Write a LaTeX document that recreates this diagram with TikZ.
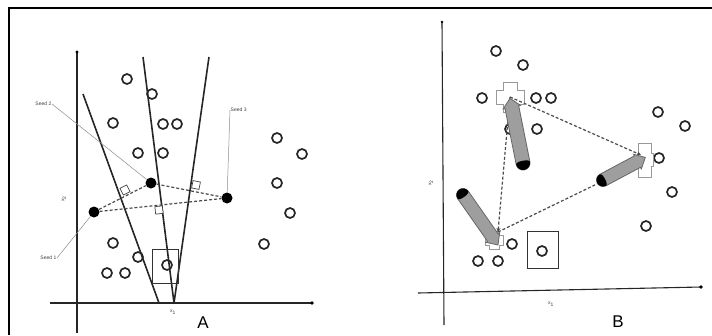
\documentclass[tikz,border=0pt]{standalone}
\usepackage{fontspec}
\setmainfont{Liberation Sans}
\usetikzlibrary{arrows.meta}
\tikzset{
  opc/.style={circle, draw=black!85, line width=1.7pt, minimum size=10pt, inner sep=0pt},
  seed/.style={circle, fill=black, minimum size=11pt, inner sep=0pt},
  axis/.style={draw=black!85, line width=1.1pt},
  bis/.style={draw=black!85, line width=1.6pt},
  dsh/.style={draw=black!70, line width=1.2pt, dash pattern=on 3pt off 2pt},
  lead/.style={draw=black!45, line width=0.5pt},
  rsq/.style={draw=black!75, line width=0.7pt, fill=white, minimum size=7.5pt, inner sep=0pt},
  tiny/.style={font=\fontsize{5}{6}\selectfont, text=black!75, inner sep=0.5pt},
  cross/.style={draw=black!40, line width=0.7pt, fill=white},
  farrow/.style={fill=black!38, draw=black!60, line width=0.8pt},
  panel/.style={font=\fontsize{17}{17}\selectfont, inner sep=0pt}
}
\newcommand{\fatarrowshape}[4]{%
  \begin{scope}[shift={#1}, rotate=#2]
    \filldraw[farrow] (0,#4) arc[start angle=90, end angle=270, radius=#4]
      -- (#3-9,-#4) -- (#3-9,-#4-1.8) -- (#3,0) -- (#3-9,#4+1.8) -- (#3-9,#4) -- cycle;
    \fill[black] (0,#4) arc[start angle=90, end angle=270, radius=#4]
      .. controls (3,-#4) and (3,#4) .. (0,#4) -- cycle;
  \end{scope}}
% plus shape: centre, arm half-width, horizontal half-length, vertical half-length
\newcommand{\plusshape}[4]{%
  \begin{scope}[shift={#1}]
    \filldraw[cross] (-#2,-#4) -- (#2,-#4) -- (#2,-#2) -- (#3,-#2) -- (#3,#2) -- (#2,#2)
      -- (#2,#4) -- (-#2,#4) -- (-#2,#2) -- (-#3,#2) -- (-#3,-#2) -- (-#2,-#2) -- cycle;
  \end{scope}}
\begin{document}
\begin{tikzpicture}[x=1pt, y=-1pt]
\useasboundingbox (0,0) rectangle (712,335);
\fill[white] (0,0) rectangle (712,335);
% frame
\draw[line width=1.8pt] (9,335) -- (9,8) -- (712,8);

% ================= Panel A =================
\coordinate (ay0) at (77,333); \coordinate (ay1) at (77,52);
\coordinate (ax0) at (50,303); \coordinate (ax1) at (312,303);
\draw[axis] (ay0) -- (ay1); \fill (ay1) circle (1.6);
\draw[axis] (ax0) -- (ax1); \fill (ax1) circle (1.8);
\node[tiny] (axl) at (173,312) {x\textsubscript{1}};
\node[tiny, rotate=90] (ayl) at (64,199) {x\textsubscript{2}};
\node[panel] (lA) at (203,323) {A};

% bisector lines
\coordinate (b1a) at (83,94);  \coordinate (b1b) at (159,303);
\coordinate (b2a) at (143,57); \coordinate (b2b) at (174,303);
\coordinate (b3a) at (209,57); \coordinate (b3b) at (174,303);
\draw[bis] (b1a) -- (b1b);
\draw[bis] (b2a) -- (b2b);
\draw[bis] (b3a) -- (b3b);

% box around point
\node[draw=black!80, line width=1pt, minimum width=26pt, minimum height=34pt, inner sep=0pt] (boxA) at (165,266) {};

% open circles A
\foreach \n/\x/\y in {a1/127/79, a2/152/94, a3/113/123, a4/163/124, a5/177/124,
  a6/138/153, a7/163/153, a8/277/138, a9/302/154, a10/277/183, a11/290/213,
  a12/264/244, a13/113/243, a14/138/257, a15/107/273, a16/125/273, a17/167/265}
  \node[opc] (\n) at (\x,\y) {};

% seeds
\node[seed] (s1) at (94,212) {};
\node[seed] (s2) at (151,183) {};
\node[seed] (s3) at (227,198) {};
\draw[dsh] (s1) -- (s2);
\draw[dsh] (s2) -- (s3);
\draw[dsh] (s1) -- (s3);

% right-angle markers
\node[rsq, rotate=27] (r12) at (125,190) {};
\node[rsq, rotate=-11] (r23) at (196,185) {};
\node[rsq, rotate=6] (r13) at (159,210) {};

% seed labels
\node[tiny, anchor=east] (l2) at (52,104) {Seed 2};
\node[tiny, anchor=west] (l3) at (230,110) {Seed 3};
\node[tiny, anchor=east] (l1) at (57,258) {Seed 1};
\draw[lead] (l2.east) -- (s2);
\draw[lead] (l3.west) -- (s3);
\draw[lead] (l1.east) -- (s1);

% ================= Panel B =================
\coordinate (by0) at (444,325); \coordinate (by1) at (442,22);
\coordinate (bx0) at (418,293); \coordinate (bx1) at (701,287);
\draw[axis] (by0) -- (by1); \fill (by1) circle (1.4);
\draw[axis] (bx0) -- (bx1); \fill (bx1) circle (1.8);
\node[tiny] (bxl) at (551,304) {x\textsubscript{1}};
\node[tiny, rotate=90] (byl) at (431,183) {x\textsubscript{2}};
\node[panel] (lB) at (618,322) {B};

\node[draw=black!80, line width=1pt, minimum width=31pt, minimum height=37pt, inner sep=0pt] (boxB) at (543,250) {};

\foreach \n/\x/\y in {c1/496/51, c2/523/65, c3/482/98, c4/536/98, c5/551/98,
  c6/510/129, c7/537/129, c8/658/112, c9/685/126, c10/659/158, c11/672/192,
  c12/646/226, c13/512/244, c14/478/261, c15/498/261, c16/542/251}
  \node[opc] (\n) at (\x,\y) {};

% centroid crosses
\plusshape{(510,97)}{7}{14}{15}
\plusshape{(645,160)}{6.5}{8}{17}
\plusshape{(494,240)}{5}{9}{9}

% dashed triangle
\coordinate (T) at (510,97);
\coordinate (R) at (641,155);
\coordinate (Bv) at (498,232);
\coordinate (R2) at (603,181);
\draw[dsh, -{Stealth[length=4pt, width=4pt]}] (T) -- (R);
\draw[dsh, -{Stealth[length=4pt, width=4pt]}] (T) -- (Bv);
\draw[dsh] (Bv) -- (R2);

% fat movement arrows
\fatarrowshape{(523,163)}{101.3}{66}{7}
\fatarrowshape{(603,180)}{28.1}{48}{6.5}
\fatarrowshape{(463,195)}{-55}{61}{6.5}
\end{tikzpicture}
\end{document}
